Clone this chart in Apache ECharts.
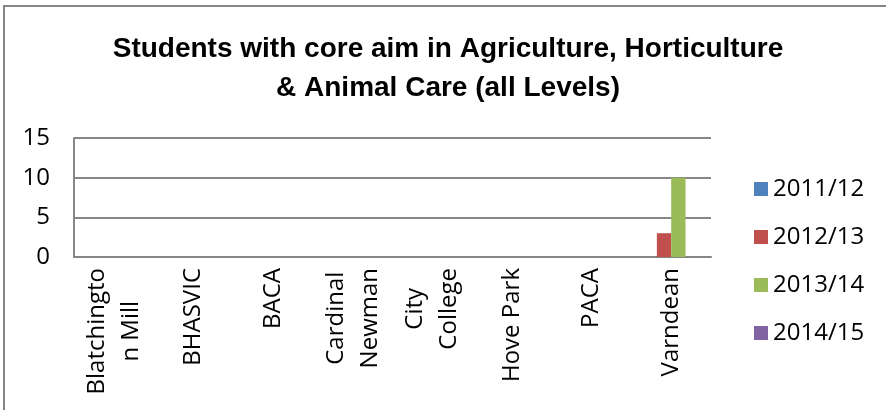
<!DOCTYPE html>
<html>
<head>
<meta charset="utf-8">
<script src="https://cdn.jsdelivr.net/npm/echarts@6/dist/echarts.min.js"></script>
<style>
  html, body { margin: 0; padding: 0; background: #fff; }
  #chart { width: 886px; height: 410px; }
</style>
</head>
<body>
<div id="chart"></div>
<script>
// data
const categories = ["Blatchingto\nn Mill", "BHASVIC", "BACA", "Cardinal\nNewman", "City\nCollege", "Hove Park", "PACA", "Varndean"];
const seriesNames = ["2011/12", "2012/13", "2013/14", "2014/15"];
const values2011 = [0, 0, 0, 0, 0, 0, 0, 0];
const values2012 = [0, 0, 0, 0, 0, 0, 0, 3];
const values2013 = [0, 0, 0, 0, 0, 0, 0, 10];
const values2014 = [0, 0, 0, 0, 0, 0, 0, 0];
const seriesColors = ["#4F81BD", "#C0504D", "#9BBB59", "#8064A2"];
const yTicks = [0, 5, 10, 15];

const font = "'Open Sans', 'Liberation Sans', sans-serif";
const allValues = [values2011, values2012, values2013, values2014];

let chart = echarts.init(document.getElementById("chart"));
let option = {
  animation: false,
  graphic: [
    {
      type: "rect",
      shape: { x: 4, y: 6, width: 900, height: 420 },
      style: { fill: "none", stroke: "#868686", lineWidth: 2 }
    }
  ],
  title: {
    text: "Students with core aim in Agriculture, Horticulture\n& Animal Care (all Levels)",
    left: 443,
    textAlign: "center",
    top: 25,
    textStyle: {
      fontFamily: "'Liberation Sans Narrow', 'Liberation Sans', sans-serif",
      fontWeight: "bold",
      fontSize: 28,
      lineHeight: 39,
      color: "#000"
    }
  },
  legend: {
    orient: "vertical",
    left: 754,
    top: 177,
    padding: 0,
    itemWidth: 14,
    itemHeight: 14,
    itemGap: 24,
    icon: "rect",
    data: seriesNames,
    textStyle: { fontFamily: font, fontSize: 24, color: "#000" }
  },
  grid: {
    left: 74,
    right: 175,
    top: 138,
    bottom: 153,
    containLabel: false
  },
  xAxis: {
    type: "category",
    data: categories,
    axisLine: { show: true, lineStyle: { color: "#868686", width: 2 } },
    axisTick: { show: false },
    axisLabel: {
      rotate: 90,
      interval: 0,
      margin: 11,
      formatter: function (v) {
        return v.split("\n").map(function (s) { return "{a|" + s + "}"; }).join("\n");
      },
      rich: {
        a: { fontFamily: font, fontSize: 24, color: "#000", align: "center", lineHeight: 34 }
      }
    }
  },
  yAxis: {
    type: "value",
    min: yTicks[0],
    max: yTicks[yTicks.length - 1],
    interval: 5,
    axisLine: { show: true, lineStyle: { color: "#868686", width: 2 } },
    axisTick: { show: false },
    splitLine: { show: true, lineStyle: { color: "#868686", width: 2 } },
    axisLabel: { fontFamily: font, fontSize: 24, color: "#000", margin: 24 }
  },
  series: seriesNames.map(function (name, i) {
    return {
      name: name,
      type: "bar",
      data: allValues[i],
      itemStyle: { color: seriesColors[i] },
      barGap: "0%",
      barCategoryGap: "28%"
    };
  })
};
chart.setOption(option);
</script>
</body>
</html>
